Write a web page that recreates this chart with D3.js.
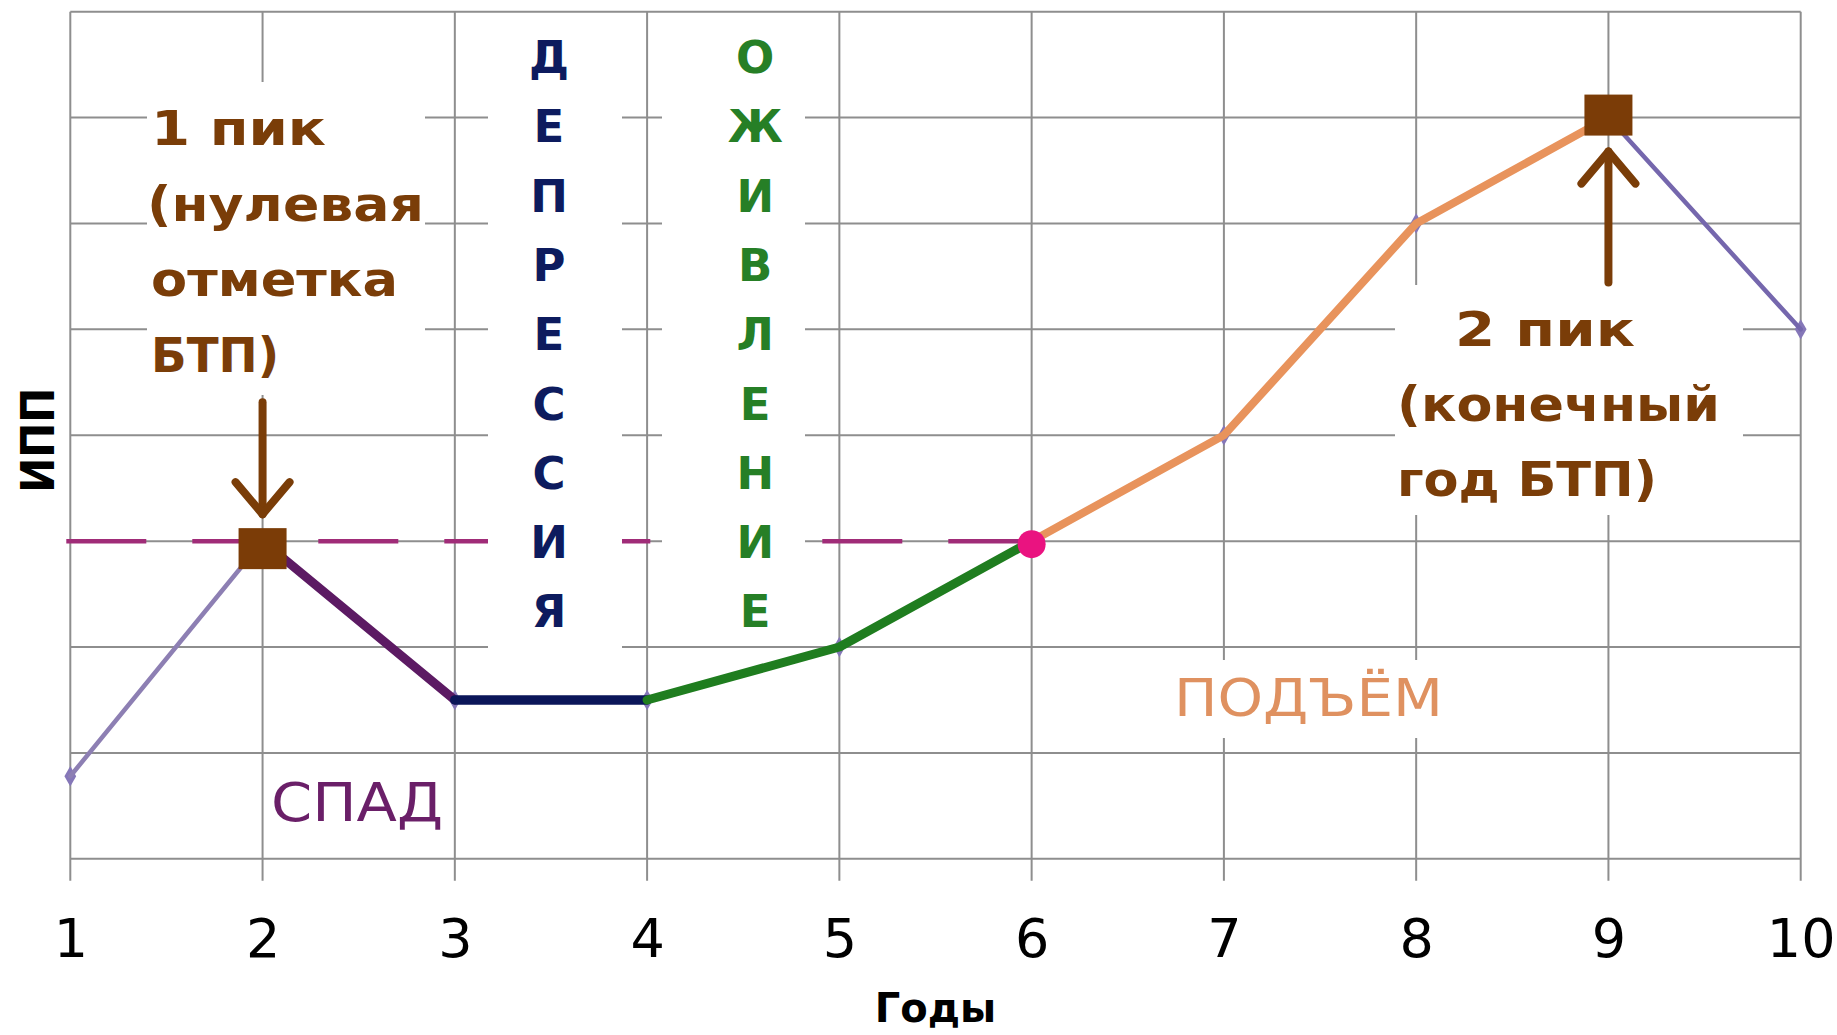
<!DOCTYPE html>
<html>
<head>
<meta charset="utf-8">
<script src="https://cdn.jsdelivr.net/npm/d3@7"></script>
<style>
  html, body { margin: 0; padding: 0; background: #ffffff; }
  svg { display: block; }
</style>
</head>
<body>
<svg id="chart" width="1837" height="1035"></svg>
<script>
// ---------------- DATA ----------------
const years = [1, 2, 3, 4, 5, 6, 7, 8, 9, 10];
const ipp = [0.78, 3, 1.5, 1.5, 2, 3, 4, 6, 7, 5];
const gridLevels = [0, 1, 2, 3, 4, 5, 6, 7, 8];
const xTickLabels = ["1", "2", "3", "4", "5", "6", "7", "8", "9", "10"];

// phase segments: index ranges into the series
const segFrom = [0, 1, 2, 3, 5, 8];
const segTo   = [1, 2, 3, 5, 8, 9];
const segNames = ["", "спад", "депрессия", "оживление", "подъём", ""];

const peakIdx = [1, 8];        // 1 пик, 2 пик (squares)
const crossIdx = 5;            // return to the 1st peak level (circle)

const depressionWord = "ДЕПРЕССИЯ";
const revivalWord = "ОЖИВЛЕНИЕ";
const peak1Lines = ["1 пик", "(нулевая", "отметка", "БТП)"];
const peak2Lines = ["2 пик", "(конечный", "год БТП)"];
const labelFall = "СПАД";
const labelRise = "ПОДЪЁМ";
const xTitle = "Годы";
const yTitle = "ИПП";

// ---------------- STYLES ----------------
const segColor = ["#8d7fb3", "#5c1a63", "#0b1659", "#1f7d1f", "#e8935c", "#7567ad"];
const segWidth = [4.5, 9, 9.5, 9, 8, 4.5];
const brown = "#7a3d08";
const gridColor = "#8e8e8e";

// ---------------- SCALES ----------------
const W = 1837, H = 1035;
const plot = { left: 70.3, right: 1800.7, top: 11.7, bottom: 858.8 };
const x = d3.scaleLinear().domain([1, 10]).range([plot.left, plot.right]);
const y = d3.scaleLinear().domain([0, 8]).range([plot.bottom, plot.top]);

const svg = d3.select("#chart");
svg.append("rect").attr("width", W).attr("height", H).attr("fill", "#fff");

// gridlines
const grid = svg.append("g").attr("stroke", gridColor).attr("stroke-width", 2);
grid.selectAll("line.h").data(gridLevels).join("line").attr("class", "h")
  .attr("x1", plot.left).attr("x2", plot.right)
  .attr("y1", d => y(d)).attr("y2", d => y(d));
grid.selectAll("line.v").data(years).join("line").attr("class", "v")
  .attr("x1", d => x(d)).attr("x2", d => x(d))
  .attr("y1", plot.top).attr("y2", plot.bottom + 22);

// x axis labels via d3 axis
const xAxis = d3.axisBottom(x).tickValues(years).tickFormat((d, i) => xTickLabels[i])
  .tickSize(0).tickPadding(0);
const gx = svg.append("g").attr("transform", `translate(0,${plot.bottom})`).call(xAxis);
gx.select(".domain").remove();
gx.selectAll("text")
  .attr("y", 98).attr("dy", 0)
  .attr("fill", "#000")
  .style("font-family", "'DejaVu Sans', sans-serif")
  .style("font-size", "54px");

// axis titles
svg.append("text").text(xTitle)
  .attr("x", (plot.left + plot.right) / 2).attr("y", 1022)
  .attr("text-anchor", "middle")
  .style("font-family", "'DejaVu Sans', sans-serif")
  .style("font-weight", "bold").style("font-size", "40px").attr("fill", "#000");

svg.append("text").text(yTitle)
  .attr("transform", `translate(54,${(plot.top + plot.bottom) / 2 + 5}) rotate(-90)`)
  .attr("text-anchor", "middle")
  .attr("textLength", 105).attr("lengthAdjust", "spacingAndGlyphs")
  .style("font-family", "'DejaVu Sans', sans-serif")
  .style("font-weight", "bold").style("font-size", "46px").attr("fill", "#000");

// dashed reference line at the level of the first peak
const baseLevel = ipp[peakIdx[0]];
svg.append("line")
  .attr("x1", x(years[0]) - 4).attr("x2", x(years[crossIdx]))
  .attr("y1", y(baseLevel)).attr("y2", y(baseLevel))
  .attr("stroke", "#a02c78").attr("stroke-width", 4.5)
  .attr("stroke-dasharray", "80,46");

// white label boxes (hide grid behind texts)
const boxes = [
  [147, 82, 278, 313],
  [488, 22, 134, 634],
  [662, 22, 143, 612],
  [1395, 285, 348, 230],
  [1158, 660, 309, 78]
];
svg.append("g").selectAll("rect").data(boxes).join("rect")
  .attr("x", d => d[0]).attr("y", d => d[1]).attr("width", d => d[2]).attr("height", d => d[3])
  .attr("fill", "#fff");

// small diamond markers at every point
const pts = years.map((yr, i) => ({ x: x(yr), y: y(ipp[i]) }));
svg.append("g").selectAll("path").data(pts).join("path")
  .attr("transform", d => `translate(${d.x},${d.y})`)
  .attr("d", d3.symbol().type(d3.symbolDiamond).size(120))
  .attr("fill", "#8577b8");

// phase segments
const line = d3.line().x(d => d.x).y(d => d.y);
segFrom.forEach((f, k) => {
  svg.append("path")
    .attr("d", line(pts.slice(f, segTo[k] + 1)))
    .attr("fill", "none")
    .attr("stroke", segColor[k])
    .attr("stroke-width", segWidth[k])
    .attr("stroke-linejoin", "round")
    .attr("stroke-linecap", "round");
});

// peak squares
svg.append("g").selectAll("rect").data(peakIdx).join("rect")
  .attr("x", i => pts[i].x - 24).attr("y", i => pts[i].y - 20 + (i === peakIdx[0] ? 7 : -3))
  .attr("width", 48).attr("height", 41)
  .attr("fill", "#7b3c07");

// circle where the rise passes the first-peak level
svg.append("circle")
  .attr("cx", pts[crossIdx].x).attr("cy", pts[crossIdx].y + 3)
  .attr("r", 14).attr("fill", "#ea1380");

// vertical words
const font = "'DejaVu Sans', sans-serif";
function verticalWord(word, cx, color) {
  svg.append("g").selectAll("text").data(word.split("")).join("text")
    .text(d => d)
    .attr("x", cx).attr("y", (d, i) => 73 + i * 69.3)
    .attr("text-anchor", "middle")
    .style("font-family", font).style("font-weight", "bold").style("font-size", "45px")
    .attr("fill", color);
}
verticalWord(depressionWord, (x(3) + x(4)) / 2 - 2, "#0d1b5e");
verticalWord(revivalWord, (x(4) + x(5)) / 2 + 12, "#267f26");

// phase labels
svg.append("text").text(labelFall)
  .attr("x", 271).attr("y", 821)
  .attr("textLength", 172).attr("lengthAdjust", "spacingAndGlyphs")
  .style("font-family", font).style("font-size", "54px").attr("fill", "#6a1f68");
svg.append("text").text(labelRise)
  .attr("x", 1174).attr("y", 716)
  .attr("textLength", 269).attr("lengthAdjust", "spacingAndGlyphs")
  .style("font-family", font).style("font-size", "52px").attr("fill", "#df9160");

// peak annotations
const p1Len = [175, 277, 247, 128];
svg.append("g").selectAll("text").data(peak1Lines).join("text")
  .text(d => d)
  .attr("x", (d, i) => i === 1 ? 147 : 151)
  .attr("y", (d, i) => 145 + i * 75.5)
  .attr("textLength", (d, i) => p1Len[i]).attr("lengthAdjust", "spacingAndGlyphs")
  .style("font-family", font).style("font-weight", "bold").style("font-size", "48px")
  .attr("fill", brown);

const p2Len = [180, 323, 260];
const p2X = [1455, 1397, 1397];
svg.append("g").selectAll("text").data(peak2Lines).join("text")
  .text(d => d)
  .attr("x", (d, i) => p2X[i])
  .attr("y", (d, i) => 346 + i * 75)
  .attr("textLength", (d, i) => p2Len[i]).attr("lengthAdjust", "spacingAndGlyphs")
  .style("font-family", font).style("font-weight", "bold").style("font-size", "48px")
  .attr("fill", brown);

// arrows
function arrow(xc, yFrom, yTip) {
  const dir = yTip > yFrom ? 1 : -1;
  const g = svg.append("g").attr("stroke", brown).attr("stroke-width", 8)
    .attr("stroke-linecap", "round").attr("stroke-linejoin", "round").attr("fill", "none");
  g.append("line").attr("x1", xc).attr("x2", xc).attr("y1", yFrom).attr("y2", yTip);
  g.append("path").attr("d",
    `M${xc - 27},${yTip - dir * 32} L${xc},${yTip} L${xc + 27},${yTip - dir * 32}`);
}
arrow(x(years[peakIdx[0]]), y(baseLevel) - 139, y(baseLevel) - 27);
arrow(x(years[peakIdx[1]]), y(ipp[peakIdx[1]]) + 165, y(ipp[peakIdx[1]]) + 34);
</script>
</body>
</html>
